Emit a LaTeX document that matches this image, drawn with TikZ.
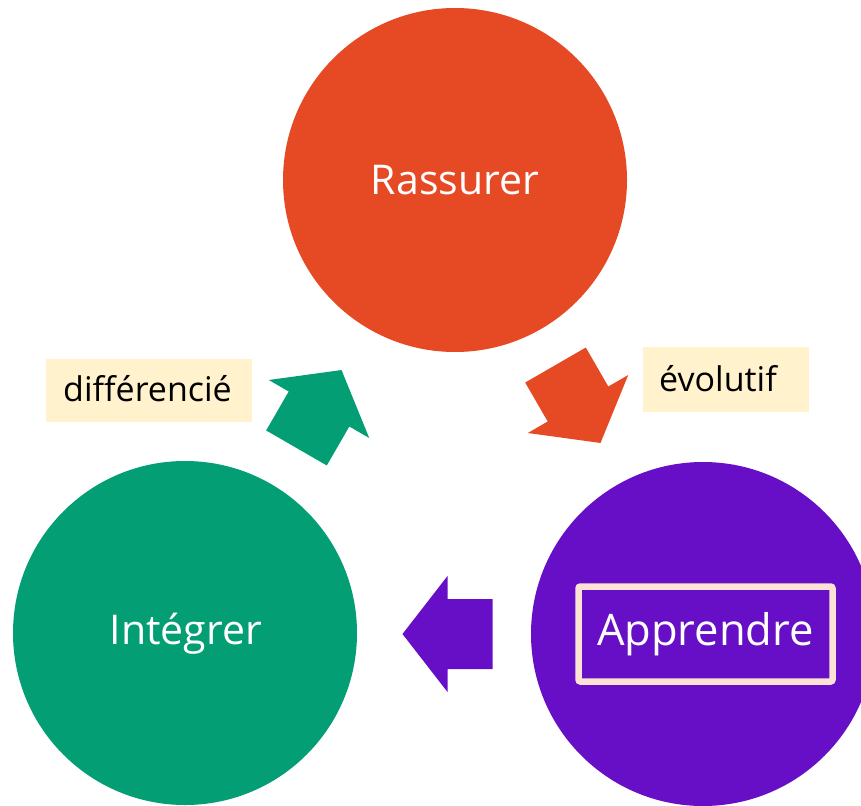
\documentclass[tikz,border=0pt]{standalone}
\usepackage{fontspec}
\setmainfont{Open Sans}
\definecolor{cRed}{HTML}{E64A25}
\definecolor{cGreen}{HTML}{039E73}
\definecolor{cPurple}{HTML}{660FC6}
\definecolor{cLabel}{HTML}{FFF2CC}
\definecolor{cBorder}{HTML}{FBE2D5}
\begin{document}
\begin{tikzpicture}[x=1pt,y=-1pt,
  bubble/.style={circle,minimum size=344pt,inner sep=0pt,text=white,font=\fontsize{41}{48}\selectfont},
  labelbox/.style={fill=cLabel,draw=none},
  labeltext/.style={font=\fontsize{34}{40}\selectfont,text=black,inner sep=0pt,anchor=west},
  fatarrow/.pic={\fill (-45,-35) -- (0,-35) -- (0,-58) -- (45,0) -- (0,58) -- (0,35) -- (-45,35) -- cycle;}
]
\clip (0,0) rectangle (861,805);
\useasboundingbox (0,0) rectangle (861,805);
\node[bubble,fill=cRed] (ras) at (455,180) {Rassurer};
\node[bubble,fill=cGreen] (int) at (185,633) {};
\node[font=\fontsize{41}{48}\selectfont,text=white] (intt) at (186,634) {Intégrer};
\node[bubble,fill=cPurple] (app) at (703,634) {};
\node[draw=cBorder,line width=6.5pt,rounded corners=2pt,minimum width=254pt,minimum height=95pt,inner sep=0pt,text=white,font=\fontsize{43.5}{50}\selectfont] (appt) at (705.5,634) {Apprendre};
% arrows
\pic[cRed,rotate=-60] (arRed) at (578,404) {fatarrow};
\pic[cPurple,rotate=180] (arPur) at (447.5,634) {fatarrow};
\pic[cGreen,rotate=60] (arGreen) at (319,409) {fatarrow};
% labels
\node[labelbox,minimum width=206pt,minimum height=63pt,inner sep=0pt] (lbd) at (149,390.5) {};
\node[labeltext] (lbdt) at (63,389) {différencié};
\node[labelbox,minimum width=166pt,minimum height=65pt,inner sep=0pt] (lbe) at (726,379.5) {};
\node[labeltext] (lbet) at (659,379) {évolutif};
\end{tikzpicture}
\end{document}
